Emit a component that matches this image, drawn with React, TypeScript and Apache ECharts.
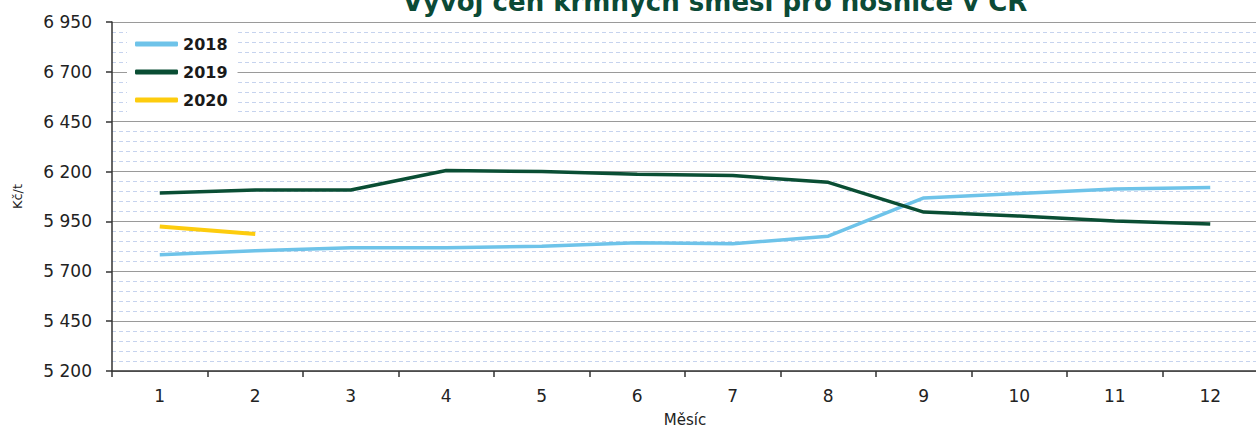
import React, { useEffect, useRef } from "react";
import * as echarts from "echarts";

const months = ["1", "2", "3", "4", "5", "6", "7", "8", "9", "10", "11", "12"];
const s2018 = [5783, 5803, 5818, 5818, 5825, 5843, 5838, 5876, 6068, 6090, 6113, 6120];
const s2019 = [6093, 6108, 6108, 6205, 6200, 6187, 6180, 6146, 5997, 5977, 5952, 5937];
const s2020 = [5925, 5887];
const titleText = "Vývoj cen krmných směsí pro nosnice v ČR";

const fmt = (v: number) => {
  const s = String(Math.round(v));
  return s.replace(/\B(?=(\d{3})+(?!\d))/g, " ");
};

export default function App() {
  const ref = useRef<HTMLDivElement>(null);
  useEffect(() => {
    if (!ref.current) return;
    const chart = echarts.init(ref.current, undefined, { renderer: "svg" });
    const font = "'DejaVu Sans', Verdana, sans-serif";
    chart.setOption({
      animation: false,
      backgroundColor: "#ffffff",
      textStyle: { fontFamily: font },
      graphic: [
        {
          type: "text",
          x: 715,
          y: 1.5,
          style: {
            text: titleText,
            fontSize: 26,
            fontWeight: "bold",
            fontFamily: font,
            fill: "#0b4a36",
            align: "center",
            verticalAlign: "middle",
          },
        },
      ],
      grid: { left: 112, right: -2, top: 22, bottom: 57, outerBoundsMode: "none" },
      legend: {
        orient: "vertical",
        left: 127,
        top: 27,
        padding: [8, 10, 8, 8],
        backgroundColor: "#ffffff",
        itemWidth: 43,
        itemHeight: 5,
        itemGap: 10,
        icon: "roundRect",
        textStyle: {
          fontSize: 16,
          fontWeight: "bold",
          color: "#1a1a1a",
          lineHeight: 18,
          fontFamily: font,
        },
        data: ["2018", "2019", "2020"],
      },
      xAxis: {
        type: "category",
        data: months,
        boundaryGap: true,
        name: "Měsíc",
        nameLocation: "middle",
        nameGap: 41,
        nameTextStyle: { fontSize: 15, color: "#222", fontFamily: font },
        axisLine: { lineStyle: { color: "#333", width: 1.5 } },
        axisTick: { show: true, length: 6, lineStyle: { color: "#333", width: 1.5 } },
        axisLabel: { fontSize: 17, color: "#222", margin: 16, fontFamily: font },
        splitLine: { show: false },
      },
      yAxis: {
        type: "value",
        min: 5200,
        max: 6950,
        interval: 250,
        name: "Kč/t",
        nameLocation: "middle",
        nameGap: 88,
        nameTextStyle: { fontSize: 13, color: "#222", fontFamily: font },
        axisLine: { show: true, lineStyle: { color: "#333", width: 1.5 } },
        axisTick: { show: true, length: 6, lineStyle: { color: "#333", width: 1.5 } },
        axisLabel: { fontSize: 17, color: "#222", margin: 20, formatter: fmt, fontFamily: font },
        splitLine: { show: true, lineStyle: { color: "#9a9a9a", width: 1 } },
        minorTick: { show: false, splitNumber: 5 },
        minorSplitLine: { show: true, lineStyle: { color: "#c6d3ee", width: 1, type: [4, 3] } },
      },
      series: [
        {
          name: "2018",
          type: "line",
          data: s2018,
          symbol: "none",
          color: "#6ec3e9",
          lineStyle: { width: 3.5, color: "#6ec3e9" },
          z: 3,
        },
        {
          name: "2019",
          type: "line",
          data: s2019,
          symbol: "none",
          color: "#0a4e34",
          lineStyle: { width: 3.5, color: "#0a4e34" },
          z: 4,
        },
        {
          name: "2020",
          type: "line",
          data: s2020,
          symbol: "none",
          color: "#fdcc0d",
          lineStyle: { width: 4, color: "#fdcc0d" },
          z: 5,
        },
      ],
    });
    return () => chart.dispose();
  }, []);
  return (
    <div
      ref={ref}
      style={{ position: "fixed", left: 0, top: 0, width: 1256, height: 428 }}
    />
  );
}
